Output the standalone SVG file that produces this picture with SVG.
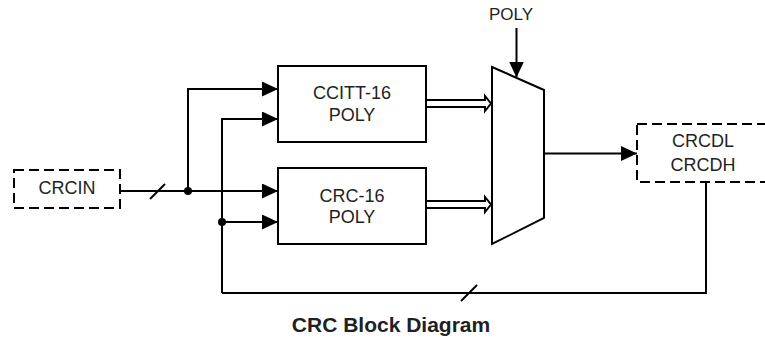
<svg xmlns="http://www.w3.org/2000/svg" width="765" height="339" viewBox="0 0 765 339">
<style>
.ln{fill:none;stroke:#000;stroke-width:2}
.box{fill:#fff;stroke:#000;stroke-width:2}
.dbox{fill:#fff;stroke:#000;stroke-width:2;stroke-dasharray:10 5}
.t{font-family:"Liberation Sans",Arial,sans-serif;font-size:18px;fill:#231f20;text-anchor:middle}
.title{font-family:"Liberation Sans",Arial,sans-serif;font-size:21px;font-weight:bold;fill:#231f20;text-anchor:middle}
.dot{fill:#000}
.hollow{fill:#fff;stroke:#000;stroke-width:2;stroke-linejoin:miter}
</style>
<defs>
<marker id="arr" markerUnits="userSpaceOnUse" markerWidth="16" markerHeight="15" refX="16" refY="7.5" orient="auto">
<path d="M0,0 L16,7.5 L0,15 z" fill="#000"/>
</marker>
</defs>
<rect width="765" height="339" fill="#fff"/>
<g id="connectors">
<path class="ln" d="M120,191 H278" marker-end="url(#arr)"/>
<path class="ln" d="M150,199 L165,184"/>
<path class="ln" d="M188,191 V89 H278" marker-end="url(#arr)"/>
<path class="ln" d="M222,293 V119 H278" marker-end="url(#arr)"/>
<path class="ln" d="M222,222 H278" marker-end="url(#arr)"/>
<path class="ln" d="M706,183 V293 H222"/>
<path class="ln" d="M461,301 L477,285"/>
<path class="ln" d="M544,153.5 H637" marker-end="url(#arr)"/>
<path class="ln" d="M516.5,28 V77.5" marker-end="url(#arr)"/>
<path class="hollow" d="M426,100 H485 V96 L491,103.5 L485,111 V107 H426"/>
<path class="hollow" d="M426,201 H485 V197 L491,204.5 L485,212 V208 H426"/>
<circle class="dot" cx="188" cy="191" r="4"/>
<circle class="dot" cx="222" cy="222" r="4"/>
</g>
<g id="crcin">
<rect class="dbox" x="14" y="170" width="106" height="38"/>
<text class="t" x="67" y="194">CRCIN</text>
</g>
<g id="ccitt">
<rect class="box" x="278" y="66" width="148" height="76"/>
<text class="t" x="352" y="99">CCITT-16</text>
<text class="t" x="352" y="121">POLY</text>
</g>
<g id="crc16">
<rect class="box" x="278" y="168" width="148" height="76"/>
<text class="t" x="352" y="202">CRC-16</text>
<text class="t" x="352" y="223">POLY</text>
</g>
<g id="mux">
<polygon class="box" points="492,67 544,90 544,218 492,244"/>
</g>
<g id="poly-label">
<text class="t" x="511" y="20" style="font-size:17px">POLY</text>
</g>
<g id="crcd">
<rect class="dbox" x="637" y="124" width="135" height="58"/>
<text class="t" x="703" y="147">CRCDL</text>
<text class="t" x="703" y="171">CRCDH</text>
</g>
<g id="caption">
<text class="title" x="391" y="332">CRC Block Diagram</text>
</g>
</svg>
